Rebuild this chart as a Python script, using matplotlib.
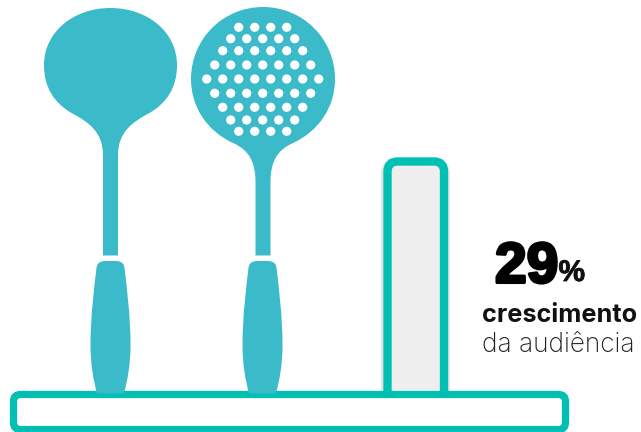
import matplotlib
matplotlib.use("Agg")
from matplotlib import pyplot as plt
from matplotlib.patches import FancyBboxPatch, PathPatch, Circle
from matplotlib.path import Path
import matplotlib.patheffects as pe

# the one number of the graphic and its caption
value_text = "29"
unit_text = "%"
label_bold = "crescimento"
label_regular = "da audiência"

spoon_color = "#3BBAC9"
teal = "#00BFB3"
bar_fill = "#EEEEEE"

# skimmer holes: row y, first x, number of holes
hole_rows_y = [27.3, 38.7, 50.7, 65, 79, 93.3, 107.3, 120, 131.3]
hole_rows_x0 = [238.7, 230.7, 222.7, 214.7, 206.7, 214.7, 222.7, 230.7, 238.7]
hole_rows_n = [4, 5, 6, 7, 8, 7, 6, 5, 4]

fig = plt.figure(figsize=(6.41, 4.32), dpi=100)
ax = fig.add_axes([0, 0, 1, 1])
ax.set_xlim(0, 641)
ax.set_ylim(432, 0)
ax.axis("off")


def mirrored(cx, half):
    # half = right side going from top to bottom, as (dx, y) points
    verts = [(cx + dx, y) for dx, y in half]
    verts += [(cx - dx, y) for dx, y in half[-2::-1]]
    codes = [Path.MOVETO] + [Path.CURVE4] * (len(half) - 1)
    codes += [Path.CURVE4] * (len(half) - 1)
    return verts, codes


def add_shape(cx, half, z=3):
    # right half is made of cubic curves, the left side is its mirror
    verts, codes = mirrored(cx, half)
    verts.append(verts[0])
    codes.append(Path.CLOSEPOLY)
    ax.add_patch(PathPatch(Path(verts, codes), fc=spoon_color, ec="none", zorder=z))


ladle = [(0, 8),
         (37, 8), (66.5, 32), (66.5, 65),
         (66.5, 88), (56, 103), (39, 113),
         (22, 122), (7.5, 132), (7.5, 155),
         (7.5, 190), (7.5, 225), (7.5, 255.5),
         (5, 255.5), (2, 255.5), (0, 255.5)]
skimmer = [(0, 7),
           (40, 7), (72, 39), (72, 79),
           (72, 107), (56, 131), (30, 143),
           (14, 150), (7.5, 162), (7.5, 182),
           (7.5, 205), (7.5, 230), (7.5, 255.5),
           (5, 255.5), (2, 255.5), (0, 255.5)]
handle = [(0, 261),
          (6, 261), (13, 260), (14, 268),
          (16, 285), (20, 315), (20, 345),
          (20, 365), (17, 380), (13.5, 393.5),
          (9, 393.5), (4, 393.5), (0, 393.5)]

add_shape(110.5, ladle)
add_shape(263, skimmer)
add_shape(110.5, handle, z=6)
add_shape(262.5, handle, z=6)

for y, x0, n in zip(hole_rows_y, hole_rows_x0, hole_rows_n):
    for i in range(n):
        ax.add_patch(Circle((x0 + 16 * i, y), 4.6, fc="white", ec="none", zorder=4))

# bar with soft shadow, lower end hidden behind the base
ax.add_patch(FancyBboxPatch((384.5, 163), 62, 250, boxstyle="round,pad=0,rounding_size=11",
                            fc="none", ec="#999999", lw=5, alpha=0.25, zorder=1))
ax.add_patch(FancyBboxPatch((387.5, 161.5), 56.5, 250, boxstyle="round,pad=0,rounding_size=10",
                            fc=bar_fill, ec=teal, lw=6, zorder=2))
# base
ax.add_patch(FancyBboxPatch((13.5, 394.5), 552, 35, boxstyle="round,pad=0,rounding_size=7",
                            fc="white", ec=teal, lw=5.2, zorder=5))

font = ["Inter", "DejaVu Sans"]
heavy = ["Liberation Sans", "DejaVu Sans"]
ax.text(495, 282.5, value_text, fontsize=41, fontweight="bold", family=heavy, color="black",
        ha="left", va="baseline", zorder=7,
        path_effects=[pe.withStroke(linewidth=2.2, foreground="black")])
ax.text(558.5, 281, unit_text, fontsize=21.5, fontweight="bold", family=heavy, color="#111111",
        ha="left", va="baseline", zorder=7,
        path_effects=[pe.withStroke(linewidth=0.6, foreground="#111111")])
ax.text(482, 322.5, label_bold, fontsize=18.2, fontweight="bold", family=font, color="#111111",
        ha="left", va="baseline", zorder=7)
ax.text(482, 351.5, label_regular, fontsize=18.9, fontweight="light", family=font, color="#222222",
        ha="left", va="baseline", zorder=7)

fig.savefig("out.png", dpi=100)
